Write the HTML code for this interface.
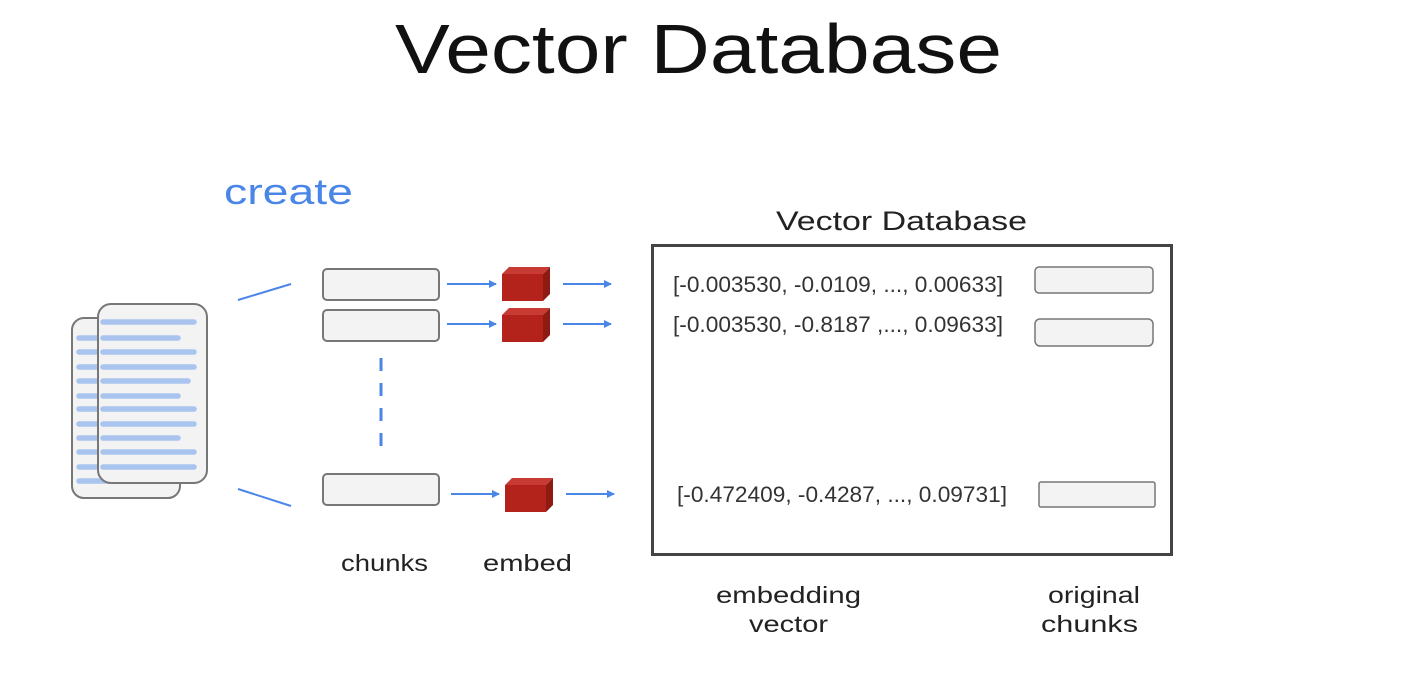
<!DOCTYPE html>
<html><head><meta charset="utf-8"><style>
html,body{margin:0;padding:0;background:#fff;width:1402px;height:696px;overflow:hidden}
svg{display:block}
text{font-family:"Liberation Sans",sans-serif}
</style></head><body>
<svg width="1402" height="696" viewBox="0 0 1402 696" xmlns="http://www.w3.org/2000/svg">
<defs>
<marker id="a" markerWidth="8" markerHeight="8" refX="7" refY="4" orient="auto" markerUnits="userSpaceOnUse"><path d="M0,0 L8,4 L0,8 z" fill="#4a86e8"/></marker>
<g id="cube">
<polygon points="0,7 7,0 48,0 41,7" fill="#c83a34"/>
<polygon points="41,7 48,0 48,27 41,34" fill="#8e1a14"/>
<rect x="0" y="7" width="41" height="27" fill="#b3231c"/>
</g>
</defs>
<text x="395" y="73" font-size="70" fill="#111" textLength="607" lengthAdjust="spacingAndGlyphs">Vector Database</text>
<text x="224" y="204" font-size="36" fill="#4a86e8" textLength="129" lengthAdjust="spacingAndGlyphs">create</text>

<rect x="72" y="318" width="108" height="180" rx="12" fill="#f3f3f3" stroke="#777" stroke-width="2"/>
<g stroke="#a9c4ef" stroke-width="5.5" stroke-linecap="round">
<line x1="79" y1="338" x2="105" y2="338"/><line x1="79" y1="352" x2="105" y2="352"/><line x1="79" y1="367" x2="105" y2="367"/><line x1="79" y1="381" x2="105" y2="381"/><line x1="79" y1="396" x2="105" y2="396"/><line x1="79" y1="409" x2="105" y2="409"/><line x1="79" y1="424" x2="105" y2="424"/><line x1="79" y1="438" x2="105" y2="438"/><line x1="79" y1="452" x2="105" y2="452"/><line x1="79" y1="467" x2="105" y2="467"/><line x1="79" y1="481" x2="110" y2="481"/>
</g>
<rect x="98" y="304" width="109" height="179" rx="13" fill="#f3f3f3" stroke="#777" stroke-width="2"/>
<g stroke="#a9c4ef" stroke-width="5.5" stroke-linecap="round">
<line x1="103" y1="322" x2="194" y2="322"/><line x1="103" y1="338" x2="178" y2="338"/><line x1="103" y1="352" x2="194" y2="352"/><line x1="103" y1="367" x2="194" y2="367"/><line x1="103" y1="381" x2="188" y2="381"/><line x1="103" y1="396" x2="178" y2="396"/><line x1="103" y1="409" x2="194" y2="409"/><line x1="103" y1="424" x2="194" y2="424"/><line x1="103" y1="438" x2="178" y2="438"/><line x1="103" y1="452" x2="194" y2="452"/><line x1="103" y1="467" x2="194" y2="467"/>
</g>
<line x1="238" y1="300" x2="291" y2="284" stroke="#4a86e8" stroke-width="2"/>
<line x1="238" y1="489" x2="291" y2="506" stroke="#4a86e8" stroke-width="2"/>

<g fill="#f3f3f3" stroke="#777" stroke-width="2">
<rect x="323" y="269" width="116" height="31" rx="4"/>
<rect x="323" y="310" width="116" height="31" rx="4"/>
<rect x="323" y="474" width="116" height="31" rx="4"/>
</g>
<line x1="381" y1="358" x2="381" y2="452" stroke="#4a86e8" stroke-width="3" stroke-dasharray="13,12"/>

<g stroke="#4a86e8" stroke-width="2" marker-end="url(#a)">
<line x1="447" y1="284" x2="496" y2="284"/>
<line x1="447" y1="324" x2="496" y2="324"/>
<line x1="451" y1="494" x2="499" y2="494"/>
<line x1="563" y1="284" x2="611" y2="284"/>
<line x1="563" y1="324" x2="611" y2="324"/>
<line x1="566" y1="494" x2="614" y2="494"/>
</g>
<use href="#cube" x="502" y="267"/>
<use href="#cube" x="502" y="308"/>
<use href="#cube" x="505" y="478"/>

<text x="341" y="571" font-size="23" fill="#222" textLength="87" lengthAdjust="spacingAndGlyphs">chunks</text>
<text x="483" y="571" font-size="23" fill="#222" textLength="89" lengthAdjust="spacingAndGlyphs">embed</text>

<text x="776" y="230" font-size="27" fill="#222" textLength="251" lengthAdjust="spacingAndGlyphs">Vector Database</text>
<rect x="652.5" y="245.5" width="519" height="309" fill="none" stroke="#444" stroke-width="3"/>
<g font-size="22" fill="#333">
<text x="673" y="292" textLength="330" lengthAdjust="spacingAndGlyphs">[-0.003530, -0.0109, ..., 0.00633]</text>
<text x="673" y="332" textLength="330" lengthAdjust="spacingAndGlyphs">[-0.003530, -0.8187 ,..., 0.09633]</text>
<text x="677" y="502" textLength="330" lengthAdjust="spacingAndGlyphs">[-0.472409, -0.4287, ..., 0.09731]</text>
</g>
<g fill="#f3f3f3" stroke="#777" stroke-width="1.5">
<rect x="1035" y="267" width="118" height="26" rx="4"/>
<rect x="1035" y="319" width="118" height="27" rx="5"/>
<rect x="1039" y="482" width="116" height="25" rx="2"/>
</g>
<g font-size="23" fill="#222">
<text x="716" y="603" textLength="145" lengthAdjust="spacingAndGlyphs">embedding</text>
<text x="749" y="632" textLength="79" lengthAdjust="spacingAndGlyphs">vector</text>
<text x="1048" y="603" textLength="92" lengthAdjust="spacingAndGlyphs">original</text>
<text x="1041" y="632" textLength="97" lengthAdjust="spacingAndGlyphs">chunks</text>
</g>
</svg>
</body></html>
